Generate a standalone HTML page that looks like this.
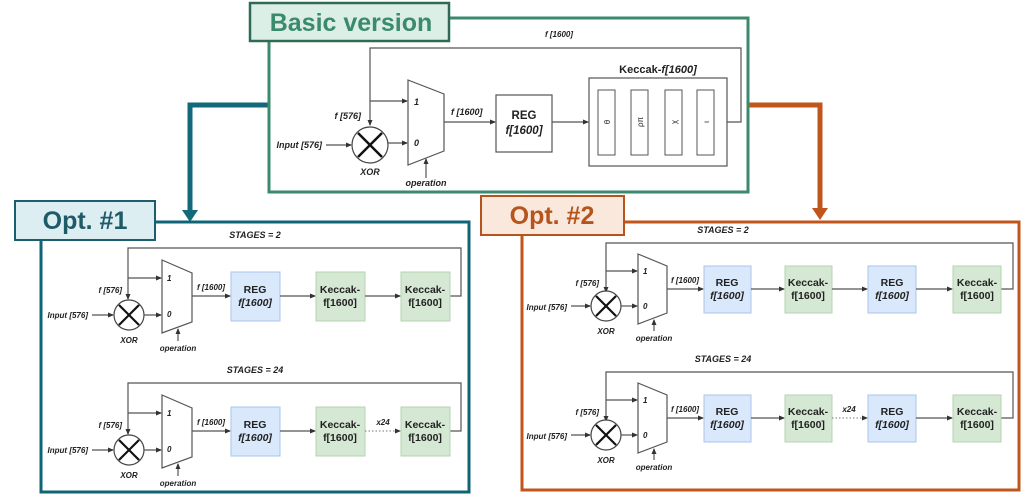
<!DOCTYPE html>
<html><head><meta charset="utf-8"><style>
html,body{margin:0;padding:0;background:#fff;}
svg{display:block;font-family:"Liberation Sans",Arial,sans-serif;}
.l{stroke:#555;stroke-width:1.2;fill:none;}
.s{font-size:8px;font-style:italic;font-weight:bold;fill:#222;}
.b{font-size:10.5px;font-weight:bold;fill:#222;text-anchor:middle;}
</style></head><body>
<svg width="1028" height="497" viewBox="0 0 1028 497">
<defs>
<marker id="a" markerWidth="6" markerHeight="6" refX="5" refY="3" orient="auto" markerUnits="userSpaceOnUse"><path d="M0,0.5 L6,3 L0,5.5z" fill="#333"/></marker>
</defs>

<!-- connector arrows -->
<polyline points="268,105 190,105 190,212" fill="none" stroke="#11697a" stroke-width="5"/>
<path d="M182,210 L198,210 L190,222z" fill="#11697a"/>
<polyline points="748,105 820,105 820,210" fill="none" stroke="#c0561c" stroke-width="5"/>
<path d="M812,208 L828,208 L820,220z" fill="#c0561c"/>

<!-- Basic version -->
<rect x="269" y="18" width="479" height="174" fill="#fff" stroke="#3b8a6c" stroke-width="3"/>
<rect x="250" y="3" width="199" height="38" fill="#dcefe6" stroke="#2f6a55" stroke-width="2.5"/>
<text x="351" y="31" text-anchor="middle" style="font-size:25px;font-weight:bold;fill:#3b8a6c">Basic version</text>
<text x="545" y="37" class="s">f [1600]</text>
<polyline class="l" points="727,122 741,122 741,48 370,48 370,125" marker-end="url(#a)"/>
<line class="l" x1="370" y1="101" x2="407" y2="101" marker-end="url(#a)"/>
<circle cx="370" cy="145" r="18" fill="#fff" stroke="#444" stroke-width="1.2"/>
<line x1="358" y1="133" x2="382" y2="157" stroke="#111" stroke-width="2.5"/>
<line x1="382" y1="133" x2="358" y2="157" stroke="#111" stroke-width="2.5"/>
<text x="322" y="148" class="s" text-anchor="end" style="font-size:9px">Input [576]</text>
<line class="l" x1="326" y1="145" x2="351" y2="145" marker-end="url(#a)"/>
<text x="361" y="119" class="s" text-anchor="end" style="font-size:9px">f [576]</text>
<text x="370" y="175" class="s" text-anchor="middle" style="font-size:9px">XOR</text>
<line class="l" x1="388" y1="143" x2="407" y2="143" marker-end="url(#a)"/>
<polygon points="408,80 444,94 444,151 408,165" fill="#fff" stroke="#555" stroke-width="1.2"/>
<text x="414" y="105" class="s" style="font-size:9px">1</text>
<text x="414" y="146" class="s" style="font-size:9px">0</text>
<line class="l" x1="426" y1="178" x2="426" y2="159" marker-end="url(#a)"/>
<text x="426" y="186" class="s" text-anchor="middle" style="font-size:9px">operation</text>
<line class="l" x1="444" y1="122" x2="495" y2="122" marker-end="url(#a)"/>
<text x="451" y="115" class="s" style="font-size:9px">f [1600]</text>
<rect x="496" y="95" width="56" height="57" fill="#fff" stroke="#555" stroke-width="1.2"/>
<text x="524" y="119" class="b" style="font-size:11.5px">REG</text>
<text x="524" y="134" class="b" style="font-size:11.5px;font-style:italic">f[1600]</text>
<line class="l" x1="552" y1="122" x2="588" y2="122" marker-end="url(#a)"/>
<text x="658" y="73" class="b" style="font-size:11px">Keccak-<tspan font-style="italic">f[1600]</tspan></text>
<rect x="589" y="78" width="138" height="88" fill="#fff" stroke="#555" stroke-width="1.2"/>
<rect x="598" y="90" width="17" height="65" fill="#fff" stroke="#555"/>
<rect x="631" y="90" width="17" height="65" fill="#fff" stroke="#555"/>
<rect x="665" y="90" width="17" height="65" fill="#fff" stroke="#555"/>
<rect x="697" y="90" width="17" height="65" fill="#fff" stroke="#555"/>
<text transform="translate(610,122) rotate(-90)" text-anchor="middle" style="font-size:8px;fill:#222">θ</text>
<text transform="translate(643,122) rotate(-90)" text-anchor="middle" style="font-size:8px;fill:#222">ρπ</text>
<text transform="translate(677,122) rotate(-90)" text-anchor="middle" style="font-size:8px;fill:#222">χ</text>
<text transform="translate(709,122) rotate(-90)" text-anchor="middle" style="font-size:8px;fill:#222">ι</text>

<!-- Opt 1 -->
<rect x="41" y="222" width="428" height="270" fill="#fff" stroke="#0f6577" stroke-width="3"/>
<rect x="15" y="201" width="140" height="39" fill="#ddeef2" stroke="#1b5e6e" stroke-width="2"/>
<text x="85" y="229" text-anchor="middle" style="font-size:25px;font-weight:bold;fill:#1f5a68">Opt. #1</text>

<!-- opt1 stage 2 -->
<g>
<text x="255" y="238" class="s" text-anchor="middle" style="font-size:9px">STAGES = 2</text>
<polyline class="l" points="450,296 461,296 461,248 128,248 128,299" marker-end="url(#a)"/>
<line class="l" x1="128" y1="278" x2="161" y2="278" marker-end="url(#a)"/>
<circle cx="129" cy="315" r="15" fill="#fff" stroke="#444" stroke-width="1.2"/>
<line x1="119" y1="305" x2="139" y2="325" stroke="#111" stroke-width="2.2"/>
<line x1="139" y1="305" x2="119" y2="325" stroke="#111" stroke-width="2.2"/>
<text x="88" y="318" class="s" text-anchor="end">Input [576]</text>
<line class="l" x1="92" y1="315" x2="113" y2="315" marker-end="url(#a)"/>
<text x="122" y="293" class="s" text-anchor="end">f [576]</text>
<text x="129" y="343" class="s" text-anchor="middle">XOR</text>
<line class="l" x1="144" y1="315" x2="161" y2="315" marker-end="url(#a)"/>
<polygon points="162,260 192,273 192,322 162,333" fill="#fff" stroke="#555" stroke-width="1.2"/>
<text x="167" y="281" class="s">1</text>
<text x="167" y="317" class="s">0</text>
<line class="l" x1="178" y1="341" x2="178" y2="329" marker-end="url(#a)"/>
<text x="178" y="351" class="s" text-anchor="middle">operation</text>
<line class="l" x1="192" y1="296" x2="230" y2="296" marker-end="url(#a)"/>
<text x="197" y="290" class="s">f [1600]</text>
<rect x="231" y="272" width="49" height="49" fill="#dae8fc" stroke="#a9c4eb"/>
<text x="255" y="293" class="b">REG</text>
<text x="255" y="306" class="b" style="font-style:italic">f[1600]</text>
<line class="l" x1="280" y1="296" x2="315" y2="296" marker-end="url(#a)"/>
<rect x="316" y="272" width="49" height="49" fill="#d5e8d4" stroke="#b5d3b0"/>
<text x="340" y="293" class="b">Keccak-</text><text x="340" y="306" class="b">f[1600]</text>
<line class="l" x1="365" y1="296" x2="400" y2="296" marker-end="url(#a)"/>
<rect x="401" y="272" width="49" height="49" fill="#d5e8d4" stroke="#b5d3b0"/>
<text x="425" y="293" class="b">Keccak-</text><text x="425" y="306" class="b">f[1600]</text>
</g>

<!-- opt1 stage 24 -->
<g transform="translate(0,135)">
<text x="255" y="238" class="s" text-anchor="middle" style="font-size:9px">STAGES = 24</text>
<polyline class="l" points="450,296 461,296 461,248 128,248 128,299" marker-end="url(#a)"/>
<line class="l" x1="128" y1="278" x2="161" y2="278" marker-end="url(#a)"/>
<circle cx="129" cy="315" r="15" fill="#fff" stroke="#444" stroke-width="1.2"/>
<line x1="119" y1="305" x2="139" y2="325" stroke="#111" stroke-width="2.2"/>
<line x1="139" y1="305" x2="119" y2="325" stroke="#111" stroke-width="2.2"/>
<text x="88" y="318" class="s" text-anchor="end">Input [576]</text>
<line class="l" x1="92" y1="315" x2="113" y2="315" marker-end="url(#a)"/>
<text x="122" y="293" class="s" text-anchor="end">f [576]</text>
<text x="129" y="343" class="s" text-anchor="middle">XOR</text>
<line class="l" x1="144" y1="315" x2="161" y2="315" marker-end="url(#a)"/>
<polygon points="162,260 192,273 192,322 162,333" fill="#fff" stroke="#555" stroke-width="1.2"/>
<text x="167" y="281" class="s">1</text>
<text x="167" y="317" class="s">0</text>
<line class="l" x1="178" y1="341" x2="178" y2="329" marker-end="url(#a)"/>
<text x="178" y="351" class="s" text-anchor="middle">operation</text>
<line class="l" x1="192" y1="296" x2="230" y2="296" marker-end="url(#a)"/>
<text x="197" y="290" class="s">f [1600]</text>
<rect x="231" y="272" width="49" height="49" fill="#dae8fc" stroke="#a9c4eb"/>
<text x="255" y="293" class="b">REG</text>
<text x="255" y="306" class="b" style="font-style:italic">f[1600]</text>
<line class="l" x1="280" y1="296" x2="315" y2="296" marker-end="url(#a)"/>
<rect x="316" y="272" width="49" height="49" fill="#d5e8d4" stroke="#b5d3b0"/>
<text x="340" y="293" class="b">Keccak-</text><text x="340" y="306" class="b">f[1600]</text>
<line x1="365" y1="296" x2="400" y2="296" stroke="#777" stroke-width="1" stroke-dasharray="1.5,2" marker-end="url(#a)"/>
<text x="383" y="290" class="s" text-anchor="middle">x24</text>
<rect x="401" y="272" width="49" height="49" fill="#d5e8d4" stroke="#b5d3b0"/>
<text x="425" y="293" class="b">Keccak-</text><text x="425" y="306" class="b">f[1600]</text>
</g>

<!-- Opt 2 -->
<rect x="522" y="222" width="497" height="268" fill="#fff" stroke="#c0561c" stroke-width="3"/>
<rect x="481" y="196" width="143" height="39" fill="#fbe8dc" stroke="#b5541c" stroke-width="2"/>
<text x="552" y="224" text-anchor="middle" style="font-size:25px;font-weight:bold;fill:#b5541c">Opt. #2</text>

<g transform="translate(476,-7)">
<text x="247" y="240" class="s" text-anchor="middle" style="font-size:9px">STAGES = 2</text>
<polyline class="l" points="525,296 537,296 537,250 130,250 130,299" marker-end="url(#a)"/>
<line class="l" x1="130" y1="278" x2="161" y2="278" marker-end="url(#a)"/>
<circle cx="130" cy="313" r="15" fill="#fff" stroke="#444" stroke-width="1.2"/>
<line x1="120" y1="303" x2="140" y2="323" stroke="#111" stroke-width="2.2"/>
<line x1="140" y1="303" x2="120" y2="323" stroke="#111" stroke-width="2.2"/>
<text x="91" y="317" class="s" text-anchor="end">Input [576]</text>
<line class="l" x1="95" y1="313" x2="114" y2="313" marker-end="url(#a)"/>
<text x="123" y="293" class="s" text-anchor="end">f [576]</text>
<text x="130" y="341" class="s" text-anchor="middle">XOR</text>
<line class="l" x1="145" y1="313" x2="161" y2="313" marker-end="url(#a)"/>
<polygon points="162,261 191,273 191,320 162,331" fill="#fff" stroke="#555" stroke-width="1.2"/>
<text x="167" y="281" class="s">1</text>
<text x="167" y="316" class="s">0</text>
<line class="l" x1="178" y1="338" x2="178" y2="327" marker-end="url(#a)"/>
<text x="178" y="348" class="s" text-anchor="middle">operation</text>
<line class="l" x1="191" y1="296" x2="227" y2="296" marker-end="url(#a)"/>
<text x="195" y="290" class="s">f [1600]</text>
<rect x="228" y="273" width="47" height="47" fill="#dae8fc" stroke="#a9c4eb"/>
<text x="251" y="293" class="b">REG</text>
<text x="251" y="306" class="b" style="font-style:italic">f[1600]</text>
<line class="l" x1="275" y1="296" x2="308" y2="296" marker-end="url(#a)"/>
<rect x="309" y="273" width="47" height="47" fill="#d5e8d4" stroke="#b5d3b0"/>
<text x="332" y="293" class="b">Keccak-</text><text x="332" y="306" class="b">f[1600]</text>
<line class="l" x1="356" y1="296" x2="391" y2="296" marker-end="url(#a)"/>
<rect x="392" y="273" width="48" height="47" fill="#dae8fc" stroke="#a9c4eb"/>
<text x="416" y="293" class="b">REG</text>
<text x="416" y="306" class="b" style="font-style:italic">f[1600]</text>
<line class="l" x1="440" y1="296" x2="476" y2="296" marker-end="url(#a)"/>
<rect x="477" y="273" width="48" height="47" fill="#d5e8d4" stroke="#b5d3b0"/>
<text x="501" y="293" class="b">Keccak-</text><text x="501" y="306" class="b">f[1600]</text>
</g>

<g transform="translate(476,122)">
<text x="247" y="240" class="s" text-anchor="middle" style="font-size:9px">STAGES = 24</text>
<polyline class="l" points="525,296 537,296 537,250 130,250 130,299" marker-end="url(#a)"/>
<line class="l" x1="130" y1="278" x2="161" y2="278" marker-end="url(#a)"/>
<circle cx="130" cy="313" r="15" fill="#fff" stroke="#444" stroke-width="1.2"/>
<line x1="120" y1="303" x2="140" y2="323" stroke="#111" stroke-width="2.2"/>
<line x1="140" y1="303" x2="120" y2="323" stroke="#111" stroke-width="2.2"/>
<text x="91" y="317" class="s" text-anchor="end">Input [576]</text>
<line class="l" x1="95" y1="313" x2="114" y2="313" marker-end="url(#a)"/>
<text x="123" y="293" class="s" text-anchor="end">f [576]</text>
<text x="130" y="341" class="s" text-anchor="middle">XOR</text>
<line class="l" x1="145" y1="313" x2="161" y2="313" marker-end="url(#a)"/>
<polygon points="162,261 191,273 191,320 162,331" fill="#fff" stroke="#555" stroke-width="1.2"/>
<text x="167" y="281" class="s">1</text>
<text x="167" y="316" class="s">0</text>
<line class="l" x1="178" y1="338" x2="178" y2="327" marker-end="url(#a)"/>
<text x="178" y="348" class="s" text-anchor="middle">operation</text>
<line class="l" x1="191" y1="296" x2="227" y2="296" marker-end="url(#a)"/>
<text x="195" y="290" class="s">f [1600]</text>
<rect x="228" y="273" width="47" height="47" fill="#dae8fc" stroke="#a9c4eb"/>
<text x="251" y="293" class="b">REG</text>
<text x="251" y="306" class="b" style="font-style:italic">f[1600]</text>
<line class="l" x1="275" y1="296" x2="308" y2="296" marker-end="url(#a)"/>
<rect x="309" y="273" width="47" height="47" fill="#d5e8d4" stroke="#b5d3b0"/>
<text x="332" y="293" class="b">Keccak-</text><text x="332" y="306" class="b">f[1600]</text>
<line x1="356" y1="296" x2="391" y2="296" stroke="#777" stroke-width="1" stroke-dasharray="1.5,2" marker-end="url(#a)"/>
<text x="373" y="290" class="s" text-anchor="middle">x24</text>
<rect x="392" y="273" width="48" height="47" fill="#dae8fc" stroke="#a9c4eb"/>
<text x="416" y="293" class="b">REG</text>
<text x="416" y="306" class="b" style="font-style:italic">f[1600]</text>
<line class="l" x1="440" y1="296" x2="476" y2="296" marker-end="url(#a)"/>
<rect x="477" y="273" width="48" height="47" fill="#d5e8d4" stroke="#b5d3b0"/>
<text x="501" y="293" class="b">Keccak-</text><text x="501" y="306" class="b">f[1600]</text>
</g>
</svg>
</body></html>
